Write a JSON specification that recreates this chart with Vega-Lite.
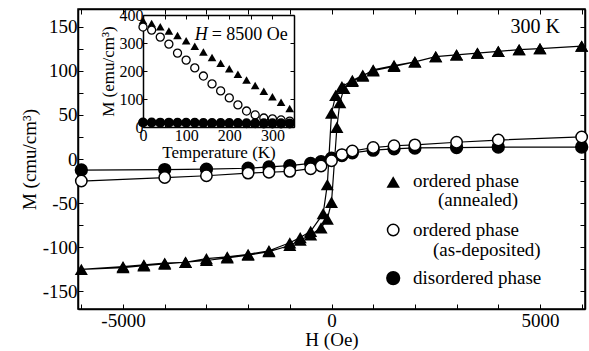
{
  "$schema": "https://vega.github.io/schema/vega-lite/v6.json",
  "autosize": {"type": "none"},
  "padding": {"left": 78, "top": 9, "right": 4, "bottom": 42},
  "width": 507,
  "height": 300,
  "background": "white",
  "config": {
    "view": {"stroke": "black", "strokeWidth": 1.5},
    "font": "Liberation Serif",
    "axis": {
      "labelFont": "Liberation Serif", "titleFont": "Liberation Serif",
      "labelFontSize": 19, "titleFontSize": 19, "titleFontWeight": "normal",
      "labelColor": "black", "titleColor": "black", "domainColor": "black",
      "tickColor": "black", "grid": false, "domainWidth": 1.5, "tickWidth": 1,
      "labelOverlap": false, "labelFlush": false
    },
    "text": {"font": "Liberation Serif", "color": "black"}
  },
  "datasets": {
    "loop": [
      {"i":1,"H":6000,"M":128},{"i":2,"H":5000,"M":125},{"i":3,"H":4500,"M":124},{"i":4,"H":4000,"M":122},
      {"i":5,"H":3500,"M":120},{"i":6,"H":3000,"M":118},{"i":7,"H":2500,"M":116},{"i":8,"H":2000,"M":110},
      {"i":9,"H":1500,"M":105},{"i":10,"H":1000,"M":100},{"i":11,"H":750,"M":95},{"i":12,"H":500,"M":89},
      {"i":13,"H":250,"M":82},{"i":14,"H":100,"M":72},{"i":15,"H":0,"M":52},{"i":16,"H":-100,"M":-29},
      {"i":17,"H":-200,"M":-62},{"i":18,"H":-500,"M":-82},{"i":19,"H":-750,"M":-89},{"i":20,"H":-1000,"M":-95},
      {"i":21,"H":-1500,"M":-104},{"i":22,"H":-2000,"M":-108},{"i":23,"H":-2500,"M":-111},{"i":24,"H":-3000,"M":-113},
      {"i":25,"H":-3500,"M":-117},{"i":26,"H":-4000,"M":-118},{"i":27,"H":-4500,"M":-120},{"i":28,"H":-5000,"M":-122},
      {"i":29,"H":-6000,"M":-125},
      {"i":30,"H":-5000,"M":-123},{"i":31,"H":-4500,"M":-121},{"i":32,"H":-4000,"M":-119},{"i":33,"H":-3500,"M":-117},
      {"i":34,"H":-3000,"M":-115},{"i":35,"H":-2500,"M":-112},{"i":36,"H":-2000,"M":-109},{"i":37,"H":-1500,"M":-105},
      {"i":38,"H":-1000,"M":-98},{"i":39,"H":-750,"M":-92},{"i":40,"H":-500,"M":-86},{"i":41,"H":-250,"M":-78},
      {"i":42,"H":-100,"M":-68},{"i":43,"H":0,"M":-49},{"i":44,"H":130,"M":36},{"i":45,"H":200,"M":64},
      {"i":46,"H":300,"M":80},{"i":47,"H":500,"M":88},{"i":48,"H":750,"M":94},{"i":49,"H":1000,"M":101},
      {"i":50,"H":1500,"M":106},{"i":51,"H":2000,"M":110},{"i":52,"H":2500,"M":116},{"i":53,"H":3000,"M":118},
      {"i":54,"H":3500,"M":120},{"i":55,"H":4000,"M":122},{"i":56,"H":4500,"M":124},{"i":57,"H":5000,"M":125},
      {"i":58,"H":6000,"M":128}
    ],
    "circ": [
      {"s":"disordered","H":-6000,"M":-12.5},{"s":"disordered","H":-4000,"M":-12},{"s":"disordered","H":-3000,"M":-11.5},
      {"s":"disordered","H":-2000,"M":-10.5},{"s":"disordered","H":-1500,"M":-9},{"s":"disordered","H":-1000,"M":-7.5},
      {"s":"disordered","H":-500,"M":-5},{"s":"disordered","H":-250,"M":-3},{"s":"disordered","H":0,"M":1},
      {"s":"disordered","H":250,"M":4},{"s":"disordered","H":500,"M":7},{"s":"disordered","H":1000,"M":10},
      {"s":"disordered","H":1500,"M":11.5},{"s":"disordered","H":2000,"M":12.5},{"s":"disordered","H":3000,"M":13},
      {"s":"disordered","H":4000,"M":13.5},{"s":"disordered","H":6000,"M":13.5},
      {"s":"as-deposited","H":-6000,"M":-25},{"s":"as-deposited","H":-4000,"M":-21},{"s":"as-deposited","H":-3000,"M":-19},
      {"s":"as-deposited","H":-2000,"M":-16},{"s":"as-deposited","H":-1500,"M":-15},{"s":"as-deposited","H":-1000,"M":-14},
      {"s":"as-deposited","H":-500,"M":-11},{"s":"as-deposited","H":-250,"M":-8},{"s":"as-deposited","H":0,"M":-2},
      {"s":"as-deposited","H":250,"M":5},{"s":"as-deposited","H":500,"M":9},{"s":"as-deposited","H":1000,"M":13},
      {"s":"as-deposited","H":1500,"M":15},{"s":"as-deposited","H":2000,"M":16},{"s":"as-deposited","H":3000,"M":19},
      {"s":"as-deposited","H":4000,"M":21.5},{"s":"as-deposited","H":6000,"M":25}
    ],
    "inset": [
      {"T":0,"a":380,"o":357,"d":16},{"T":20,"a":370,"o":346,"d":16},{"T":40,"a":358,"o":321,"d":15.5},
      {"T":60,"a":343,"o":296,"d":15.5},{"T":80,"a":327,"o":264,"d":15},{"T":100,"a":308,"o":239,"d":15},
      {"T":120,"a":288,"o":211,"d":15},{"T":140,"a":268,"o":182,"d":14.5},{"T":160,"a":248,"o":154,"d":14.5},
      {"T":180,"a":228,"o":129,"d":14},{"T":200,"a":208,"o":104,"d":14},{"T":220,"a":188,"o":79,"d":14},
      {"T":240,"a":168,"o":57,"d":13.5},{"T":260,"a":148,"o":43,"d":13.5},{"T":280,"a":128,"o":32,"d":13},
      {"T":300,"a":108,"o":29,"d":13},{"T":320,"a":88,"o":25,"d":13},{"T":340,"a":66,"o":21,"d":12.5}
    ]
  },
  "layer": [
    {
      "layer": [
        {
          "data": {"name": "loop"},
          "mark": {"type": "line", "color": "black", "strokeWidth": 1.2},
          "encoding": {
            "x": {"field": "H", "type": "quantitative",
              "scale": {"domain": [-6080, 6080], "nice": false, "zero": false},
              "axis": {"orient": "bottom", "values": [-6000,-5000,-4000,-3000,-2000,-1000,0,1000,2000,3000,4000,5000,6000],
                "labelExpr": "datum.value % 5000 === 0 ? toString(datum.value) : ''",
                "tickSize": -5, "labelPadding": 7, "title": "H (Oe)", "titlePadding": 0}},
            "y": {"field": "M", "type": "quantitative",
              "scale": {"domain": [-170, 170], "nice": false, "zero": false},
              "axis": {"orient": "left", "values": [-150,-125,-100,-75,-50,-25,0,25,50,75,100,125,150],
                "labelExpr": "datum.value % 50 === 0 ? toString(datum.value) : ''",
                "tickSize": -5, "labelPadding": 6, "title": "M (cmu/cm³)", "titlePadding": 3}},
            "order": {"field": "i"}
          }
        },
        {
          "data": {"name": "loop"},
          "mark": {"type": "point", "shape": "triangle-up", "filled": true, "color": "black", "size": 170, "opacity": 1},
          "encoding": {
            "x": {"field": "H", "type": "quantitative", "axis": null},
            "y": {"field": "M", "type": "quantitative", "axis": null}
          }
        },
        {
          "data": {"name": "circ"},
          "mark": {"type": "line", "color": "black", "strokeWidth": 1.2},
          "encoding": {
            "x": {"field": "H", "type": "quantitative", "axis": null},
            "y": {"field": "M", "type": "quantitative", "axis": null},
            "detail": {"field": "s"},
            "order": {"field": "H"}
          }
        },
        {
          "data": {"name": "circ"},
          "transform": [{"filter": "datum.s === 'disordered'"}],
          "mark": {"type": "point", "shape": "circle", "filled": true, "fill": "black", "stroke": "black", "strokeWidth": 1.5, "size": 140, "opacity": 1},
          "encoding": {
            "x": {"field": "H", "type": "quantitative", "axis": null},
            "y": {"field": "M", "type": "quantitative", "axis": null}
          }
        },
        {
          "data": {"name": "circ"},
          "transform": [{"filter": "datum.s === 'as-deposited'"}],
          "mark": {"type": "point", "shape": "circle", "filled": true, "fill": "white", "stroke": "black", "strokeWidth": 1.5, "size": 130, "opacity": 1},
          "encoding": {
            "x": {"field": "H", "type": "quantitative", "axis": null},
            "y": {"field": "M", "type": "quantitative", "axis": null}
          }
        },
        {
          "data": {"name": "loop"},
          "mark": {"type": "point", "opacity": 0},
          "encoding": {
            "x": {"field": "H", "type": "quantitative",
              "axis": {"orient": "top", "values": [-6000,-5000,-4000,-3000,-2000,-1000,0,1000,2000,3000,4000,5000,6000],
                "labels": false, "tickSize": -5, "title": null}},
            "y": {"field": "M", "type": "quantitative",
              "axis": {"orient": "right", "values": [-150,-125,-100,-75,-50,-25,0,25,50,75,100,125,150],
                "labels": false, "tickSize": -5, "title": null}}
          }
        },
        {
          "data": {"values": [{}]},
          "mark": {"type": "text", "align": "right", "baseline": "middle", "fontSize": 20},
          "encoding": {
            "x": {"datum": 5480, "type": "quantitative", "axis": null},
            "y": {"datum": 150, "type": "quantitative", "axis": null},
            "text": {"value": "300 K"}
          }
        },
        {
          "data": {"values": [{}]},
          "mark": {"type": "point", "shape": "triangle-up", "filled": true, "color": "black", "size": 180, "opacity": 1},
          "encoding": {
            "x": {"datum": 1480, "type": "quantitative", "axis": null},
            "y": {"datum": -26, "type": "quantitative", "axis": null}
          }
        },
        {
          "data": {"values": [{}]},
          "mark": {"type": "point", "shape": "circle", "filled": true, "fill": "white", "stroke": "black", "strokeWidth": 1.5, "size": 130, "opacity": 1},
          "encoding": {
            "x": {"datum": 1480, "type": "quantitative", "axis": null},
            "y": {"datum": -80.5, "type": "quantitative", "axis": null}
          }
        },
        {
          "data": {"values": [{}]},
          "mark": {"type": "point", "shape": "circle", "filled": true, "fill": "black", "stroke": "black", "size": 150, "opacity": 1},
          "encoding": {
            "x": {"datum": 1480, "type": "quantitative", "axis": null},
            "y": {"datum": -135, "type": "quantitative", "axis": null}
          }
        },
        {
          "data": {"values": [{}]},
          "mark": {"type": "text", "align": "left", "baseline": "middle", "fontSize": 19},
          "encoding": {
            "x": {"datum": 1955, "type": "quantitative", "axis": null},
            "y": {"datum": -25, "type": "quantitative", "axis": null},
            "text": {"value": "ordered phase"}
          }
        },
        {
          "data": {"values": [{}]},
          "mark": {"type": "text", "align": "left", "baseline": "middle", "fontSize": 19},
          "encoding": {
            "x": {"datum": 2555, "type": "quantitative", "axis": null},
            "y": {"datum": -47, "type": "quantitative", "axis": null},
            "text": {"value": "(annealed)"}
          }
        },
        {
          "data": {"values": [{}]},
          "mark": {"type": "text", "align": "left", "baseline": "middle", "fontSize": 19},
          "encoding": {
            "x": {"datum": 1955, "type": "quantitative", "axis": null},
            "y": {"datum": -80, "type": "quantitative", "axis": null},
            "text": {"value": "ordered phase"}
          }
        },
        {
          "data": {"values": [{}]},
          "mark": {"type": "text", "align": "left", "baseline": "middle", "fontSize": 19},
          "encoding": {
            "x": {"datum": 2435, "type": "quantitative", "axis": null},
            "y": {"datum": -103, "type": "quantitative", "axis": null},
            "text": {"value": "(as-deposited)"}
          }
        },
        {
          "data": {"values": [{}]},
          "mark": {"type": "text", "align": "left", "baseline": "middle", "fontSize": 19},
          "encoding": {
            "x": {"datum": 1955, "type": "quantitative", "axis": null},
            "y": {"datum": -135, "type": "quantitative", "axis": null},
            "text": {"value": "disordered phase"}
          }
        }
      ],
      "resolve": {"axis": {"x": "independent", "y": "independent"}}
    },
    {
      "layer": [
        {
          "data": {"name": "inset"},
          "mark": {"type": "point", "shape": "triangle-up", "filled": true, "color": "black", "size": 75, "opacity": 1},
          "encoding": {
            "x": {"field": "T", "type": "quantitative",
              "scale": {"domain": [0, 350], "range": [65, 216], "nice": false, "zero": false},
              "axis": {"orient": "bottom", "offset": -182, "values": [0,50,100,150,200,250,300,350],
                "labelExpr": "datum.value % 100 === 0 ? toString(datum.value) : ''",
                "tickSize": -4, "labelPadding": 4, "labelFontSize": 16, "titleFontSize": 17,
                "title": "Temperature (K)", "titlePadding": 1}},
            "y": {"field": "a", "type": "quantitative",
              "scale": {"domain": [0, 400], "range": [118, 6], "nice": false, "zero": false},
              "axis": {"orient": "left", "offset": -65, "values": [0,100,200,300,400],
                "tickSize": -4, "labelPadding": 4, "labelFontSize": 16, "titleFontSize": 17,
                "title": "M (emu/cm³)", "titlePadding": 2}}
          }
        },
        {
          "data": {"name": "inset"},
          "mark": {"type": "point", "shape": "circle", "filled": true, "fill": "white", "stroke": "black", "strokeWidth": 1.3, "size": 65, "opacity": 1},
          "encoding": {
            "x": {"field": "T", "type": "quantitative", "axis": null},
            "y": {"field": "o", "type": "quantitative", "axis": null}
          }
        },
        {
          "data": {"name": "inset"},
          "mark": {"type": "point", "shape": "circle", "filled": true, "fill": "black", "stroke": "black", "size": 65, "opacity": 1},
          "encoding": {
            "x": {"field": "T", "type": "quantitative", "axis": null},
            "y": {"field": "d", "type": "quantitative", "axis": null}
          }
        },
        {
          "data": {"name": "inset"},
          "mark": {"type": "point", "opacity": 0},
          "encoding": {
            "x": {"field": "T", "type": "quantitative",
              "axis": {"orient": "top", "offset": -6, "values": [0,50,100,150,200,250,300,350],
                "labels": false, "tickSize": -4, "title": null}},
            "y": {"field": "a", "type": "quantitative",
              "axis": {"orient": "right", "offset": -291, "values": [0,100,200,300,400],
                "labels": false, "tickSize": -4, "title": null}}
          }
        },
        {
          "data": {"values": [{}]},
          "mark": {"type": "text", "align": "right", "baseline": "middle", "fontSize": 18, "fontStyle": "italic"},
          "encoding": {
            "x": {"datum": 150, "type": "quantitative", "axis": null},
            "y": {"datum": 330, "type": "quantitative", "axis": null},
            "text": {"value": "H"}
          }
        },
        {
          "data": {"values": [{}]},
          "mark": {"type": "text", "align": "left", "baseline": "middle", "fontSize": 18, "dx": 4},
          "encoding": {
            "x": {"datum": 150, "type": "quantitative", "axis": null},
            "y": {"datum": 330, "type": "quantitative", "axis": null},
            "text": {"value": "= 8500 Oe"}
          }
        }
      ],
      "resolve": {"axis": {"x": "independent", "y": "independent"}}
    }
  ],
  "resolve": {"scale": {"x": "independent", "y": "independent"}, "axis": {"x": "independent", "y": "independent"}}
}
